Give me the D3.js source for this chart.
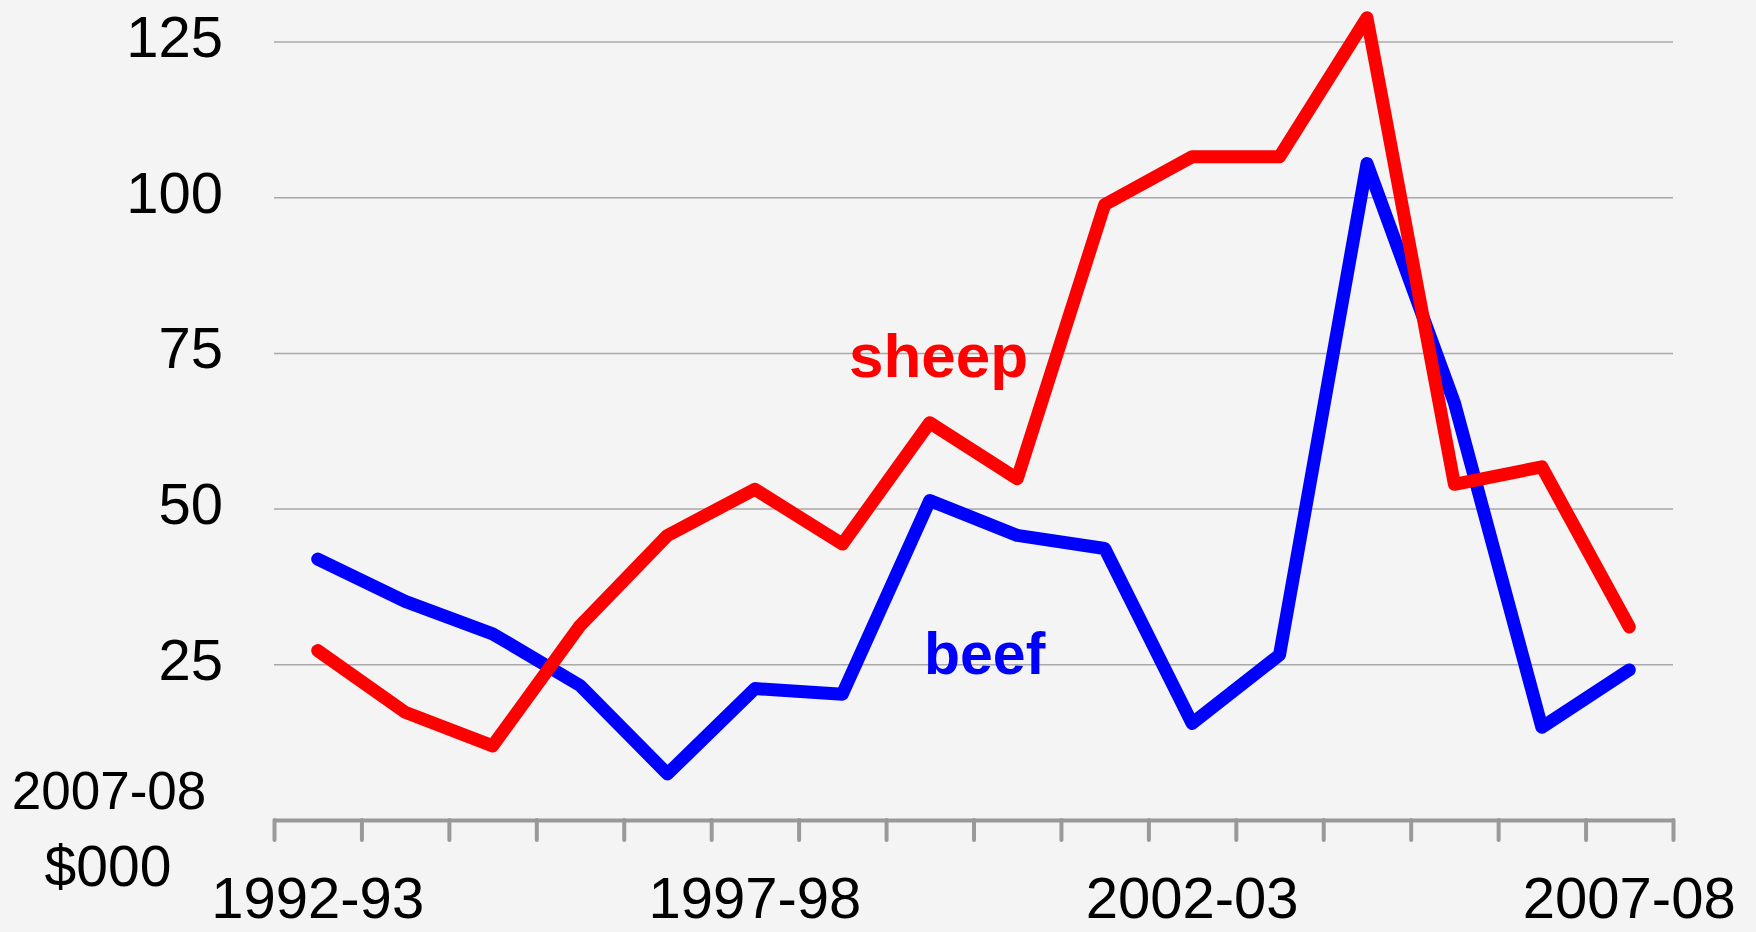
<!DOCTYPE html>
<html>
<head>
<meta charset="utf-8">
<script src="https://cdn.jsdelivr.net/npm/d3@7"></script>
<style>
  body { margin: 0; background: #f4f4f4; }
  text { font-family: "Liberation Sans", Arial, sans-serif; }
</style>
</head>
<body>
<script>
const WIDTH = 1756;
const HEIGHT = 932;

// financial years, one per category
const years = ["1992-93", "1993-94", "1994-95", "1995-96", "1996-97", "1997-98",
  "1998-99", "1999-00", "2000-01", "2001-02", "2002-03", "2003-04",
  "2004-05", "2005-06", "2006-07", "2007-08"];
const labelYears = ["1992-93", "1997-98", "2002-03", "2007-08"];
const yTicks = [25, 50, 75, 100, 125];

// 2007-08 $000
const beef = [41.9, 35.1, 29.9, 21.6, 7.4, 21.1, 20.2, 51.3, 45.7, 43.6,
  15.5, 26.5, 105.4, 67.0, 14.9, 24.1];
const sheep = [27.2, 17.3, 11.9, 31.2, 45.7, 53.1, 44.3, 63.8, 54.8, 98.8,
  106.5, 106.5, 128.8, 53.9, 56.7, 31.0];

const LEFT = 274, RIGHT = 1673, BASE = 820, TOP = 41.5;

var svg = d3.select("body").append("svg")
  .attr("width", WIDTH).attr("height", HEIGHT);

svg.append("rect").attr("width", WIDTH).attr("height", HEIGHT).attr("fill", "#f4f4f4");

var x = d3.scaleBand().domain(years).range([LEFT, RIGHT]).padding(0);
var y = d3.scaleLinear().domain([0, 125]).range([BASE, TOP]);
var xEdges = d3.scaleLinear().domain([0, years.length]).range([LEFT, RIGHT]);

function cx(d) { return x(d) + x.bandwidth() / 2; }

// y gridlines + labels
var yAxis = svg.append("g")
  .attr("transform", "translate(" + LEFT + ",0)")
  .call(d3.axisLeft(y).tickValues(yTicks).tickSize(-(RIGHT - LEFT)).tickPadding(51));
yAxis.select(".domain").remove();
yAxis.selectAll(".tick line").attr("stroke", "#a8a8a8").attr("stroke-width", 1.5);
yAxis.selectAll(".tick text")
  .attr("fill", "#000")
  .attr("dy", "0.26em")
  .style("font-size", "58px")
  .style("font-family", "'Liberation Sans', Arial, sans-serif");

// x axis with ticks at category edges
var xAxis = svg.append("g")
  .attr("transform", "translate(0," + BASE + ")")
  .call(d3.axisBottom(xEdges).tickValues(d3.range(years.length + 1))
    .tickFormat("").tickSize(20).tickSizeOuter(0));
xAxis.select(".domain").attr("stroke", "#999").attr("stroke-width", 4);
xAxis.selectAll(".tick line").attr("stroke", "#999").attr("stroke-width", 4)
  .attr("stroke-linecap", "round");

// only every fifth year is labelled
svg.append("g").selectAll("text")
  .data(labelYears)
  .enter().append("text")
  .attr("x", function(d) { return cx(d); })
  .attr("y", 918)
  .attr("text-anchor", "middle")
  .style("font-size", "58px")
  .text(function(d) { return d; });

// y title
svg.append("text").attr("x", 109).attr("y", 809).attr("text-anchor", "middle")
  .style("font-size", "53px").text("2007-08");
svg.append("text").attr("x", 108).attr("y", 886).attr("text-anchor", "middle")
  .style("font-size", "57px").text("$000");

// lines
var line = d3.line()
  .x(function(d, i) { return cx(years[i]); })
  .y(function(d) { return y(d); });

svg.append("path").datum(beef)
  .attr("d", line)
  .attr("fill", "none").attr("stroke", "#0000ff").attr("stroke-width", 13)
  .attr("stroke-linecap", "round").attr("stroke-linejoin", "round");

svg.append("path").datum(sheep)
  .attr("d", line)
  .attr("fill", "none").attr("stroke", "#ff0000").attr("stroke-width", 13)
  .attr("stroke-linecap", "round").attr("stroke-linejoin", "round");

// series labels
svg.append("text").attr("x", 849).attr("y", 377)
  .attr("fill", "#ff0000").style("font-size", "62px").style("font-weight", "bold")
  .text("sheep");
svg.append("text").attr("x", 924).attr("y", 674)
  .attr("fill", "#0000ff").style("font-size", "59px").style("font-weight", "bold")
  .text("beef");
</script>
</body>
</html>
